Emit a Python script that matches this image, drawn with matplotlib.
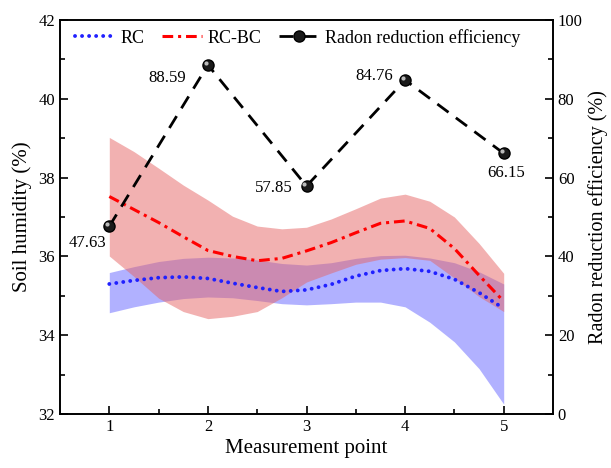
import numpy as np
import matplotlib
matplotlib.use("Agg")
import matplotlib.pyplot as plt
from matplotlib.ticker import MultipleLocator, FixedLocator
from matplotlib.transforms import offset_copy

plt.rcParams['font.family'] = ['Liberation Serif', 'DejaVu Serif']

# Points de mesure
points = [1, 2, 3, 4, 5]
radon_eff = [47.63, 88.59, 57.85, 84.76, 66.15]

# Courbes (pas de 0.25)
x_fit = [1, 1.25, 1.5, 1.75, 2, 2.25, 2.5, 2.75, 3, 3.25, 3.5, 3.75, 4, 4.25, 4.5, 4.75, 5]
rc_mean = [35.30, 35.39, 35.46, 35.48, 35.44, 35.32, 35.21, 35.11, 35.15, 35.29, 35.50, 35.64,
           35.69, 35.62, 35.42, 35.08, 34.68]
rc_upper = [35.59, 35.74, 35.87, 35.95, 35.98, 35.96, 35.91, 35.82, 35.78, 35.84, 35.95, 36.02,
            36.03, 35.96, 35.84, 35.61, 35.30]
rc_lower = [34.57, 34.72, 34.84, 34.93, 34.97, 34.95, 34.88, 34.80, 34.77, 34.80, 34.84, 34.84,
            34.72, 34.33, 33.83, 33.15, 32.25]
rcbc_mean = [37.52, 37.19, 36.86, 36.50, 36.15, 36.00, 35.89, 35.95, 36.14, 36.35, 36.60, 36.84,
             36.90, 36.71, 36.20, 35.52, 34.86]
rcbc_upper = [39.02, 38.66, 38.24, 37.81, 37.43, 37.02, 36.77, 36.70, 36.74, 36.95, 37.21, 37.48,
              37.58, 37.40, 37.00, 36.33, 35.57]
rcbc_lower = [36.01, 35.49, 34.94, 34.60, 34.42, 34.48, 34.60, 34.95, 35.35, 35.58, 35.80, 35.93,
              35.97, 35.90, 35.45, 34.98, 34.60]

fig = plt.figure(figsize=(6.11, 4.68), dpi=100)
ax = fig.add_axes([60 / 611, 54 / 468, 493 / 611, 394 / 468])
ax2 = ax.twinx()

# Bandes
ax.fill_between(x_fit, rc_lower, rc_upper, color='#6464ff', alpha=0.5, lw=0)
ax.fill_between(x_fit, rcbc_lower, rcbc_upper, color='#e66464', alpha=0.5, lw=0)

l1, = ax.plot(x_fit, rc_mean, color='#2020ff', lw=2.8, linestyle=(0, (0.01, 1.8)),
              dash_capstyle='round', label='RC')
l2, = ax.plot(x_fit, rcbc_mean, color='red', lw=2.2, linestyle=(0, (3.5, 1.6, 1, 1.6)),
              label='RC-BC')

l3, = ax2.plot(points, radon_eff, color='black', lw=2, linestyle=(0, (5, 3.3)),
               marker='o', markersize=8, markerfacecolor='#1a1a1a', markeredgecolor='black',
               label='Radon reduction efficiency')
# reflet des billes
hl = offset_copy(ax2.transData, fig=fig, x=-1.5, y=1.5, units='points')
ax2.plot(points, radon_eff, linestyle='none', marker='o', markersize=3,
         color='#bbbbbb', markeredgewidth=0, transform=hl)

offsets = [(-22, -17), (-22, -13), (-14, -2), (-12, 4), (2, -20)]
has = ['center', 'right', 'right', 'right', 'center']
for xp, yp, (dx, dy), h in zip(points, radon_eff, offsets, has):
    ax2.annotate(f'{yp:.2f}', (xp, yp), xytext=(dx, dy), textcoords='offset pixels',
                 ha=h, va='center', fontsize=12)

ax.set_xlim(0.5, 5.5)
ax.set_ylim(32, 42)
ax2.set_ylim(0, 100)
ax.set_xticks(points)
ax.xaxis.set_minor_locator(FixedLocator([1.5, 2.5, 3.5, 4.5]))
ax.yaxis.set_major_locator(MultipleLocator(2))
ax.yaxis.set_minor_locator(MultipleLocator(1))
ax2.yaxis.set_major_locator(MultipleLocator(20))
ax2.yaxis.set_minor_locator(MultipleLocator(10))

for a in (ax, ax2):
    a.tick_params(which='major', direction='in', length=6, width=1.2, labelsize=12)
    a.tick_params(which='minor', direction='in', length=3.5, width=1.2)
    for s in a.spines.values():
        s.set_linewidth(1.2)
ax.tick_params(axis='x', which='both', top=False)

ax.set_xlabel('Measurement point', fontsize=15, labelpad=3)
ax.set_ylabel('Soil humidity (%)', fontsize=15, labelpad=5)
ax2.set_ylabel('Radon reduction efficiency (%)', fontsize=14.5, labelpad=4)

ax2.legend([l1, l2, l3], ['RC', 'RC-BC', 'Radon reduction efficiency'], loc='upper left',
           bbox_to_anchor=(0.005, 1.01), ncol=3, frameon=False, fontsize=13,
           handlelength=2.2, handletextpad=0.3, columnspacing=1.0, borderaxespad=0.3)

fig.savefig('out.png', dpi=100)
